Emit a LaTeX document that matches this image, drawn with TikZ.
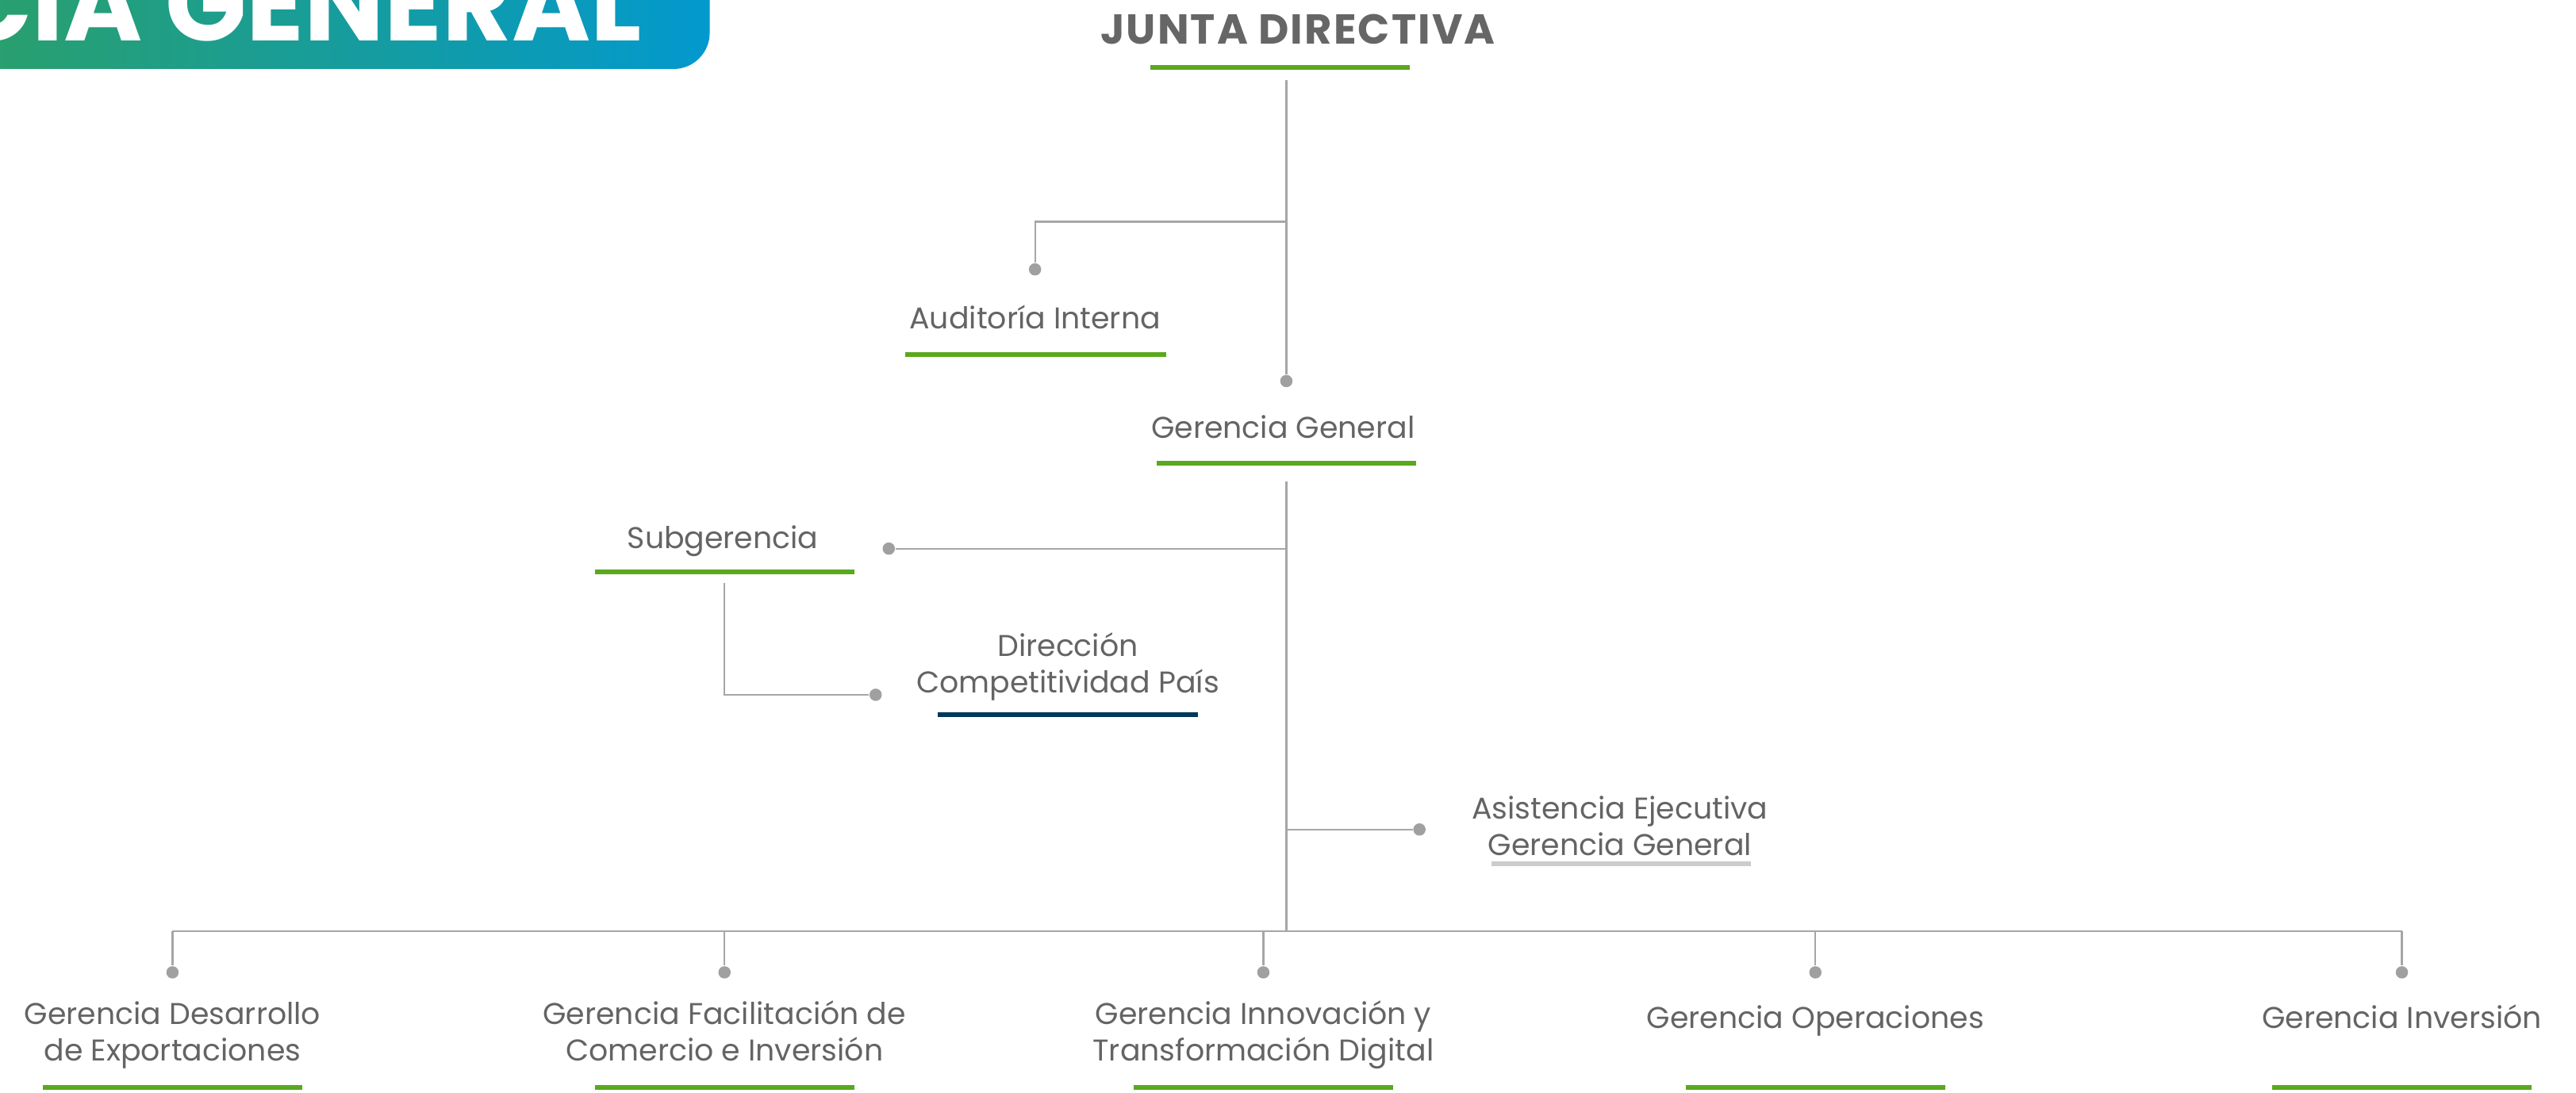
\documentclass[tikz,border=0pt]{standalone}
\usepackage{fontspec}
\setmainfont{Poppins}
\definecolor{txtgray}{RGB}{100,100,100}
\definecolor{headgray}{RGB}{102,102,102}
\definecolor{linegray}{RGB}{166,166,166}
\definecolor{dotgray}{RGB}{160,160,160}
\definecolor{barGreen}{RGB}{90,168,30}
\definecolor{barNavy}{RGB}{0,56,89}
\definecolor{barGray}{RGB}{204,204,204}
\definecolor{bannerGreen}{RGB}{44,160,104}
\definecolor{bannerBlue}{RGB}{2,153,206}
\begin{document}
\begin{tikzpicture}[x=0.2mm,y=-0.2mm,
        font=\fontsize{10.4}{12.8}\selectfont,
        unit/.style={text=txtgray,align=center,inner sep=0pt,anchor=base},
        head/.style={text=headgray,inner sep=0pt,anchor=base,
           font=\fontsize{14.5}{16}\selectfont\bfseries\addfontfeatures{LetterSpace=4}},
        conn/.style={draw=linegray,line width=0.6pt},
        dot/.style={circle,fill=dotgray,inner sep=0pt,minimum size=1.5mm},
        bar/.style={line width=0.6mm,draw=barGreen},
    ]
    \useasboundingbox (0,0) rectangle (1568,665);
    % banner
    \shade[left color=bannerGreen,right color=bannerBlue,rounded corners=4.4mm]
        (-30,-60) rectangle (432,42);
    \node[anchor=base east,text=white,inner sep=0pt,
        font=\fontsize{37}{40}\selectfont\bfseries] (banner) at (391,25)
        {GERENCIA GENERAL};
    % units
    \node[head] (jd) at (790,27) {JUNTA DIRECTIVA};
    \node[unit] (aud) at (630,200) {Auditoría Interna};
    \node[unit] (gg) at (781,267) {Gerencia General};
    \node[unit] (sub) at (440,334) {Subgerencia};
    \node[unit] (dir) at (650,422) {Dirección\\Competitividad País};
    \node[unit] (asis) at (986,521) {Asistencia Ejecutiva\\Gerencia General};
    % underlines
    \draw[bar]
        (700,41) -- (858,41)
        (551,216) -- (710,216)
        (704,282) -- (862,282)
        (362,348) -- (520,348)
        ;
    \draw[bar,draw=barNavy] (571,435) -- (729,435);
    \draw[bar,draw=barGray] (908,526) -- (1066,526);
    % dots and joints
    \node[dot] (dAud) at (630,164) {};
    \node[dot] (dGG) at (783,232) {};
    \node[dot] (dSub) at (541,334) {};
    \node[dot] (dDir) at (533,423) {};
    \node[dot] (dAsis) at (864,505) {};
    \coordinate (jdBot) at (783,49);
    \coordinate (jAud) at (783,135);
    \coordinate (ggBot) at (783,293);
    \coordinate (jSub) at (783,334);
    \coordinate (subBot) at (441,355);
    \coordinate (jAsis) at (783,505);
    \coordinate (bus) at (783,567);
    \coordinate (busL) at (105,567);
    \coordinate (busR) at (1462,567);
    \draw[conn]
        (jdBot) -- (dGG)
        (jAud) -| (dAud)
        (ggBot) -- (bus)
        (jSub) -- (dSub)
        (subBot) |- (dDir)
        (jAsis) -- (dAsis)
        (busL) -- (busR)
        ;
    % bottom row
    \foreach \x/\nm/\txt/\y in {
            105/gde/{Gerencia Desarrollo\\de Exportaciones}/646,
            441/gfc/{Gerencia Facilitación de\\Comercio e Inversión}/646,
            769/git/{Gerencia Innovación y\\Transformación Digital}/646,
            1105/gop/{Gerencia Operaciones}/626,
            1462/gin/{Gerencia Inversión}/626} {
        \node[dot] (d\nm) at (\x,592) {};
        \draw[conn] (d\nm |- bus) -- (d\nm);
        \node[unit] (\nm) at (\x,\y) {\txt};
        \draw[bar] (\x-79,662) -- (\x+79,662);
    }
\end{tikzpicture}
\end{document}
